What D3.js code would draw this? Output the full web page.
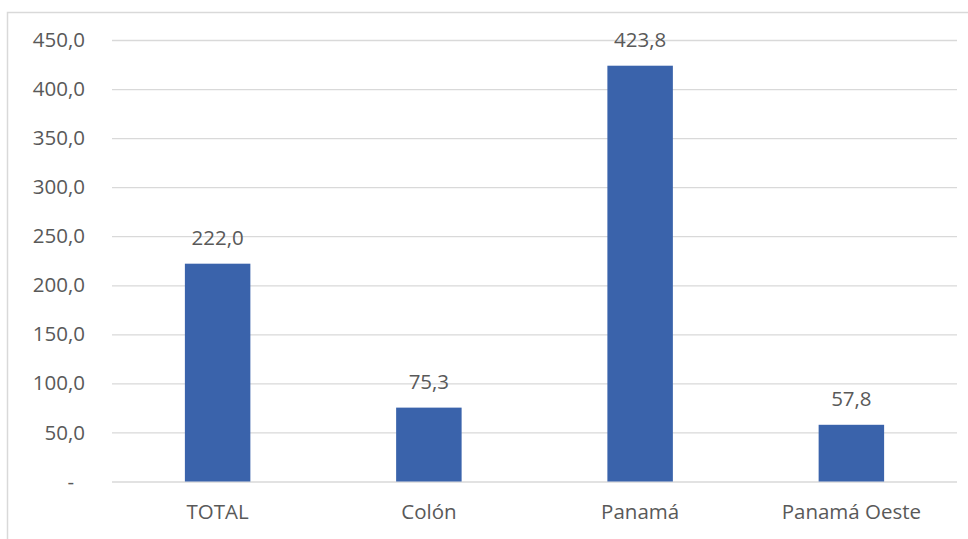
<!DOCTYPE html>
<html><head><meta charset="utf-8">
<script src="https://cdn.jsdelivr.net/npm/d3@7"></script>
<style>body{margin:0;background:#fff;}svg{display:block;font-family:"Open Sans",sans-serif;}</style>
</head><body>
<script>
const categories = ["TOTAL", "Colón", "Panamá", "Panamá Oeste"];
const values = [222.0, 75.3, 423.8, 57.8];
const yTicks = [0, 50, 100, 150, 200, 250, 300, 350, 400, 450];

(function () {
const W = 968, H = 539;
const svg = d3.select("body").append("svg").attr("width", W).attr("height", H);
svg.append("rect").attr("x", 7.5).attr("y", 12.5).attr("width", W + 10).attr("height", H + 10)
  .attr("fill", "#fff").attr("stroke", "#d9d9d9").attr("stroke-width", 1.5);

const mLeft = 112, mRight = 957, mTop = 40, mBottom = 481.5;
const fmt = v => v === 0 ? "-" : d3.format(".1f")(v).replace(".", ",");
const x = d3.scaleBand().domain(categories).range([mLeft, mRight]).paddingInner(0.69).paddingOuter(0.345);
const y = d3.scaleLinear().domain([0, 450]).range([mBottom, mTop]);

const textColor = "#595959";
const fs = 20.5;

const yAxis = svg.append("g").attr("transform", `translate(${mLeft},0)`)
  .call(d3.axisLeft(y).tickValues(yTicks).tickSize(-(mRight - mLeft)).tickPadding(27).tickFormat(fmt));
yAxis.select(".domain").remove();
yAxis.selectAll(".tick line").attr("stroke", "#d9d9d9").attr("stroke-width", 1.3);
yAxis.selectAll(".tick text").attr("fill", textColor).attr("font-size", fs)
  .attr("font-family", "Open Sans, sans-serif")
  .attr("dx", d => d === 0 ? -11 : 0);

const xAxis = svg.append("g").attr("transform", `translate(0,${mBottom})`)
  .call(d3.axisBottom(x).tickSize(0).tickPadding(23));
xAxis.select(".domain").remove();
xAxis.selectAll(".tick text").attr("fill", textColor).attr("font-size", fs)
  .attr("font-family", "Open Sans, sans-serif");

const data = categories.map((c, i) => ({c, v: values[i]}));
svg.append("g").selectAll("rect").data(data).join("rect")
  .attr("x", d => x(d.c)).attr("width", x.bandwidth())
  .attr("y", d => y(d.v)).attr("height", d => y(0) - y(d.v))
  .attr("fill", "#3a63ab");

svg.append("g").selectAll("text").data(data).join("text")
  .attr("x", d => x(d.c) + x.bandwidth() / 2).attr("y", d => y(d.v) - 19)
  .attr("text-anchor", "middle").attr("fill", textColor).attr("font-size", fs)
  .text(d => fmt(d.v));
})();
</script>
</body></html>
